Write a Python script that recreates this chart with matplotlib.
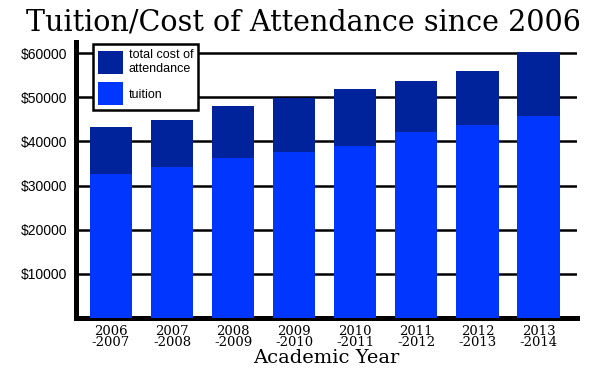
import matplotlib
matplotlib.use("Agg")
import matplotlib.pyplot as plt
import numpy as np

years = ["2006\n-2007", "2007\n-2008", "2008\n-2009", "2009\n-2010",
         "2010\n-2011", "2011\n-2012", "2012\n-2013", "2013\n-2014"]
tuition = [32700, 34300, 36200, 37500, 39000, 42100, 43800, 45700]
total_cost = [43200, 44800, 48000, 49800, 51800, 53700, 55900, 60300]
yticks = [10000, 20000, 30000, 40000, 50000, 60000]
ytick_labels = ["$10000", "$20000", "$30000", "$40000", "$50000", "$60000"]

dark = "#00229A"
bright = "#0036FF"

fig = plt.figure(figsize=(6.06, 3.74), dpi=100)
ax = fig.add_axes([76/606, (374-318)/374, 501/606, 276/374])

x = np.arange(len(years))
upper = np.array(total_cost) - np.array(tuition)
b1 = ax.bar(x, tuition, width=0.69, color=bright, zorder=3, label="tuition")
b2 = ax.bar(x, upper, bottom=tuition, width=0.69, color=dark, zorder=3,
            label="total cost of\nattendance")

ax.set_xlim(-0.573, 7.63)
ax.set_ylim(0, 62500)
ax.set_yticks(yticks)
ax.set_yticklabels(ytick_labels, fontsize=10, family="Liberation Sans")
ax.set_xticks(x)
ax.set_xticklabels(years, fontsize=9.5, family="DejaVu Serif", linespacing=0.8)
ax.tick_params(axis="both", length=0, pad=6)
ax.tick_params(axis="x", pad=5)
for yv in yticks:
    ax.axhline(yv, color="black", lw=1.8, zorder=1)

for s in ["top", "right"]:
    ax.spines[s].set_visible(False)
ax.spines["left"].set_linewidth(3.6)
ax.spines["bottom"].set_linewidth(3.6)

ax.set_xlabel("Academic Year", fontsize=14, family="DejaVu Serif", labelpad=0)
fig.text(0.5, 0.978, "Tuition/Cost of Attendance since 2006", ha="center",
         va="top", fontsize=20.6, family="DejaVu Serif")

leg = ax.legend(handles=[b2, b1], loc="upper left",
                bbox_to_anchor=(17/501, 1 - 2/276),
                prop={"family": "Liberation Sans", "size": 9},
                handlelength=2.0, handleheight=2.45, handletextpad=0.45,
                labelspacing=0.6, borderpad=0.4, borderaxespad=0,
                fancybox=False, framealpha=1, edgecolor="black")
leg.get_frame().set_linewidth(1.8)
leg.set_zorder(5)

fig.savefig("out.png", dpi=100)
